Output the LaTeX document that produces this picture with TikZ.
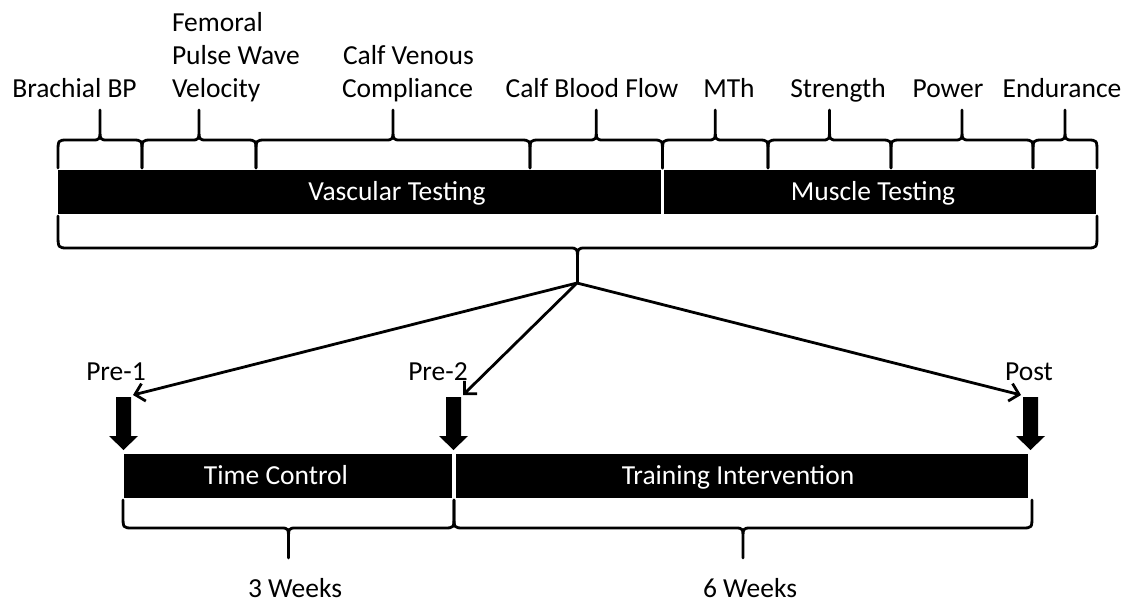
\documentclass[tikz,border=0pt]{standalone}
\usepackage{fontspec}
\setmainfont{Carlito}
\usetikzlibrary{arrows.meta}
\newcommand\mybrace[5]{%
  \pgfmathsetmacro\bxm{(#1+#2)/2}%
  \pgfmathsetmacro\bya{#4+0.45*(#3-#4)}%
  \pgfmathsetmacro\byb{#4+0.4*(#5-#4)}%
  \draw[bracestyle] (#1,#3) -- (#1,\bya) .. controls (#1,#4) .. ({#1+10},#4)
    -- ({\bxm-8},#4) .. controls (\bxm,#4) .. (\bxm,\byb) -- (\bxm,#5)
    -- (\bxm,\byb) .. controls (\bxm,#4) .. ({\bxm+8},#4)
    -- ({#2-10},#4) .. controls (#2,#4) .. (#2,\bya) -- (#2,#3);%
}
\newcommand\blockarrow[1]{%
  \fill[black] ({#1-7.5},397) -- ({#1+7.5},397) -- ({#1+7.5},436) -- ({#1+14.5},436)
    -- (#1,450) -- ({#1-14.5},436) -- ({#1-7.5},436) -- cycle;%
}
\begin{document}
\begin{tikzpicture}[x=1pt,y=-1pt,
  lbl/.style={inner sep=0pt,outer sep=0pt,font=\fontsize{27.5}{33}\selectfont,text=black},
  bartext/.style={lbl,text=white},
  bar/.style={fill=black,draw=none,inner sep=0pt,outer sep=0pt,anchor=north west},
  bracestyle/.style={line width=2.8pt,line join=round,line cap=round},
  thinarrow/.style={line width=2.8pt,-{Straight Barb[length=9pt,width=18pt,line width=2.8pt]}}]
\useasboundingbox (0,0) rectangle (1141,603);
\fill[white] (0,0) rectangle (1141,603);

% top labels
\node[lbl,anchor=base] (brach) at (74.5,97.5) {Brachial BP};
\node[lbl,anchor=base west] (fem1) at (172,31.5) {Femoral};
\node[lbl,anchor=base west] (fem2) at (172,64.5) {Pulse Wave};
\node[lbl,anchor=base west] (fem3) at (172,97.5) {Velocity};
\node[lbl,anchor=base west] (cvc1) at (343,64.5) {Calf Venous};
\node[lbl,anchor=base west] (cvc2) at (342,97.5) {Compliance};
\node[lbl,anchor=base] (cbf) at (592,97.5) {Calf Blood Flow};
\node[lbl,anchor=base] (mth) at (729,97.5) {MTh};
\node[lbl,anchor=base] (str) at (838,97.5) {Strength};
\node[lbl,anchor=base] (pow) at (948,97.5) {Power};
\node[lbl,anchor=base] (endu) at (1062,97.5) {Endurance};

% top small braces
\mybrace{58}{142}{168}{140}{110}
\mybrace{142}{256}{168}{140}{110}
\mybrace{256}{530}{168}{140}{110}
\mybrace{530}{662.5}{168}{140}{110}
\mybrace{662.5}{768}{168}{140}{110}
\mybrace{768}{891}{168}{140}{110}
\mybrace{891}{1033}{168}{140}{110}
\mybrace{1033}{1097}{168}{140}{110}

% top bars
\node[bar,minimum width=603pt,minimum height=43.5pt] (vasc) at (58,170) {};
\node[bar,minimum width=432pt,minimum height=43.5pt] (musc) at (664,170) {};
\node[bartext,anchor=base] (vasct) at (397,200) {Vascular Testing};
\node[bartext,anchor=base] (musct) at (873,200) {Muscle Testing};

% large brace
\mybrace{58}{1097}{216}{248}{282}
\coordinate (hub) at (577,283);

% labels pre/post
\node[lbl,anchor=base] (pre1) at (116,380) {Pre-1};
\node[lbl,anchor=base] (pre2) at (438,380) {Pre-2};
\node[lbl,anchor=base] (post) at (1029,380) {Post};

\coordinate (pre1end) at (133,395);
\coordinate (pre2end) at (463,395);
\coordinate (postend) at (1021,395);
\draw[thinarrow] (hub) -- (pre1end);
\draw[thinarrow] (hub) -- (pre2end);
\draw[thinarrow] (hub) -- (postend);

% block arrows
\blockarrow{123.5}
\blockarrow{453.5}
\blockarrow{1030.5}

% bottom bars
\node[bar,minimum width=327.5pt,minimum height=44pt] (tc) at (124,454) {};
\node[bar,minimum width=572pt,minimum height=44pt] (ti) at (456,454) {};
\node[bartext,anchor=base] (tct) at (276,484) {Time Control};
\node[bartext,anchor=base] (tit) at (738,484) {Training Intervention};

% bottom braces
\mybrace{123}{454}{500}{528}{558}
\mybrace{454}{1032}{500}{528}{558}

\node[lbl,anchor=base] (w3) at (295,597) {3 Weeks};
\node[lbl,anchor=base] (w6) at (750,597) {6 Weeks};
\end{tikzpicture}
\end{document}
